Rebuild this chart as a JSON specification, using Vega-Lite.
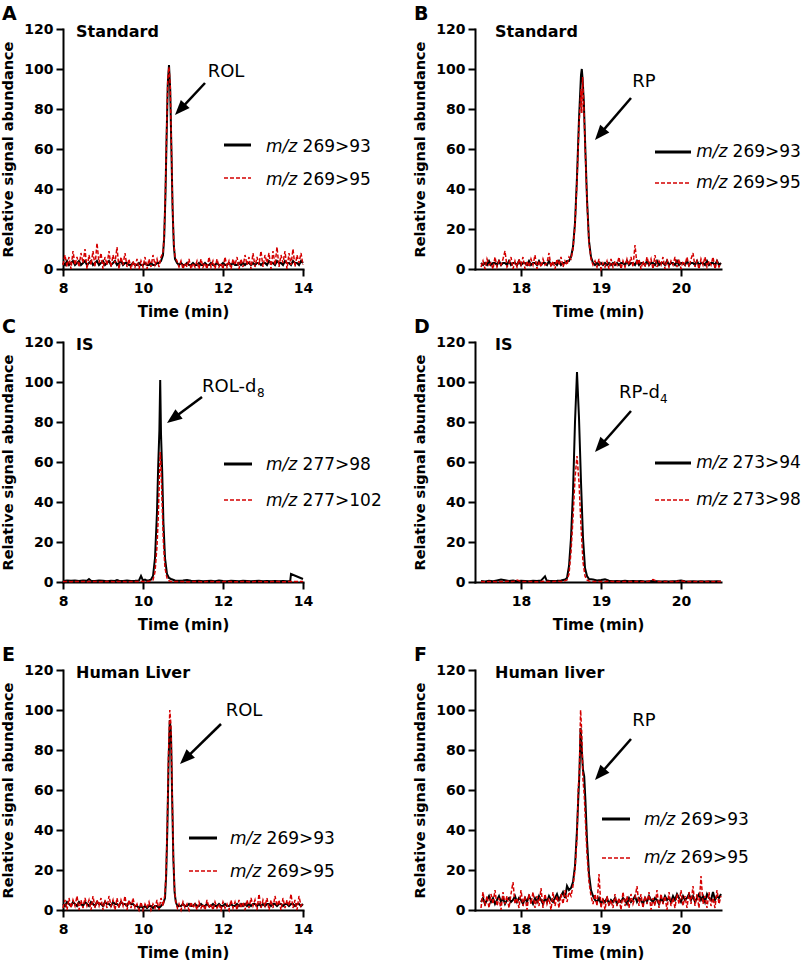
{
"$schema": "https://vega.github.io/schema/vega-lite/v6.json",
"background": "white",
"padding": {"left": 0, "top": 5, "right": 0, "bottom": 0},
"config": {
  "font": "DejaVu Sans",
  "view": {"stroke": null},
  "axis": {"domainColor": "black", "domainWidth": 2, "domainCap": "square", "tickColor": "black", "tickWidth": 2, "tickSize": 7, "labelFont": "DejaVu Sans", "labelFontSize": 14, "labelFontWeight": "bold", "labelColor": "black", "titleFont": "DejaVu Sans", "titleFontWeight": "bold", "titleColor": "black", "grid": false, "labelFlush": false, "labelOverlap": false, "format": "d"},
  "axisX": {"labelPadding": 5, "titleFontSize": 15, "titlePadding": 9},
  "axisY": {"labelPadding": 3, "titleFontSize": 14.5, "titlePadding": 8, "labelOverlap": false, "tickCount": 10},
  "title": {"fontSize": 19, "fontWeight": "bold", "anchor": "start", "frame": "group", "dx": -61, "offset": -2, "color": "black", "font": "DejaVu Sans"},
  "text": {"font": "DejaVu Sans", "color": "black"},
  "style": {
    "lab": {"fontWeight": "bold", "fontSize": 16, "baseline": "alphabetic", "align": "left"},
    "ann": {"fontSize": 18, "baseline": "alphabetic", "align": "center"},
    "annl": {"fontSize": 18, "baseline": "alphabetic", "align": "left"},
    "sub": {"fontSize": 12, "baseline": "alphabetic", "align": "left"},
    "mz": {"fontStyle": "italic", "fontSize": 17, "baseline": "middle", "align": "left"},
    "num": {"fontSize": 17, "baseline": "middle", "align": "left"},
    "arw": {"color": "black", "strokeWidth": 2.5},
    "lk": {"color": "black", "strokeWidth": 3},
    "lr": {"color": "#d40000", "strokeWidth": 1.3, "strokeDash": [4, 2]},
    "head": {"shape": "M0,0L-0.8,2L0.8,2Z", "filled": true, "color": "black", "size": 225, "opacity": 1, "strokeWidth": 0}
  }
},
"datasets": {
  "A": [
    {"t":8.00,"k":3,"r":2},{"t":8.05,"k":2,"r":7},{"t":8.10,"k":4,"r":1},{"t":8.15,"k":2,"r":6},{"t":8.20,"k":3,"r":0},{"t":8.25,"k":4,"r":9},{"t":8.30,"k":2,"r":2},{"t":8.35,"k":3,"r":6},{"t":8.40,"k":4,"r":1},{"t":8.45,"k":2,"r":8},
    {"t":8.50,"k":3,"r":3},{"t":8.55,"k":4,"r":10},{"t":8.60,"k":2,"r":0},{"t":8.65,"k":3,"r":7},{"t":8.70,"k":4,"r":2},{"t":8.75,"k":2,"r":9},{"t":8.80,"k":3,"r":1},{"t":8.85,"k":4,"r":13},{"t":8.90,"k":2,"r":3},{"t":8.95,"k":3,"r":8},
    {"t":9.00,"k":4,"r":0},{"t":9.05,"k":2,"r":6},{"t":9.10,"k":3,"r":2},{"t":9.15,"k":4,"r":9},{"t":9.20,"k":2,"r":1},{"t":9.25,"k":3,"r":7},{"t":9.30,"k":4,"r":3},{"t":9.35,"k":2,"r":11},{"t":9.40,"k":3,"r":0},{"t":9.45,"k":4,"r":6},
    {"t":9.50,"k":2,"r":2},{"t":9.55,"k":3,"r":8},{"t":9.60,"k":3,"r":1},{"t":9.65,"k":2,"r":5},{"t":9.70,"k":2,"r":0},{"t":9.75,"k":3,"r":4},{"t":9.80,"k":2,"r":1},{"t":9.85,"k":2,"r":5},{"t":9.90,"k":3,"r":0},{"t":9.95,"k":2,"r":4},
    {"t":10.00,"k":2,"r":1},{"t":10.05,"k":3,"r":6},{"t":10.10,"k":2,"r":0},{"t":10.15,"k":2,"r":5},{"t":10.20,"k":3,"r":1},{"t":10.25,"k":2,"r":7},{"t":10.30,"k":2,"r":2},{"t":10.35,"k":3,"r":5},{"t":10.40,"k":3,"r":1},{"t":10.45,"k":4,"r":6},
    {"t":10.50,"k":7,"r":8},{"t":10.53,"k":16,"r":17},{"t":10.56,"k":36,"r":38},{"t":10.59,"k":66,"r":68},{"t":10.62,"k":93,"r":95},{"t":10.65,"k":102,"r":101},{"t":10.68,"k":90,"r":92},{"t":10.71,"k":60,"r":62},{"t":10.74,"k":30,"r":31},{"t":10.77,"k":12,"r":13},
    {"t":10.80,"k":5,"r":6},{"t":10.85,"k":3,"r":4},{"t":10.90,"k":2,"r":1},{"t":10.95,"k":3,"r":4},{"t":11.00,"k":2,"r":0},{"t":11.05,"k":2,"r":3},{"t":11.10,"k":3,"r":1},{"t":11.15,"k":2,"r":5},{"t":11.20,"k":2,"r":0},{"t":11.25,"k":3,"r":3},
    {"t":11.30,"k":2,"r":1},{"t":11.35,"k":2,"r":4},{"t":11.40,"k":3,"r":0},{"t":11.45,"k":2,"r":5},{"t":11.50,"k":2,"r":1},{"t":11.55,"k":3,"r":3},{"t":11.60,"k":2,"r":0},{"t":11.65,"k":2,"r":6},{"t":11.70,"k":3,"r":1},{"t":11.75,"k":2,"r":4},
    {"t":11.80,"k":2,"r":0},{"t":11.85,"k":3,"r":5},{"t":11.90,"k":2,"r":1},{"t":11.95,"k":2,"r":3},{"t":12.00,"k":3,"r":0},{"t":12.05,"k":2,"r":6},{"t":12.10,"k":2,"r":1},{"t":12.15,"k":3,"r":4},{"t":12.20,"k":2,"r":0},{"t":12.25,"k":3,"r":5},
    {"t":12.30,"k":2,"r":2},{"t":12.35,"k":2,"r":6},{"t":12.40,"k":3,"r":0},{"t":12.45,"k":2,"r":5},{"t":12.50,"k":3,"r":1},{"t":12.55,"k":2,"r":7},{"t":12.60,"k":3,"r":2},{"t":12.65,"k":3,"r":6},{"t":12.70,"k":2,"r":0},{"t":12.75,"k":3,"r":8},
    {"t":12.80,"k":2,"r":1},{"t":12.85,"k":3,"r":6},{"t":12.90,"k":3,"r":2},{"t":12.95,"k":2,"r":9},{"t":13.00,"k":3,"r":1},{"t":13.05,"k":3,"r":7},{"t":13.10,"k":2,"r":3},{"t":13.15,"k":4,"r":8},{"t":13.20,"k":3,"r":0},{"t":13.25,"k":3,"r":9},
    {"t":13.30,"k":2,"r":2},{"t":13.35,"k":4,"r":11},{"t":13.40,"k":3,"r":1},{"t":13.45,"k":3,"r":7},{"t":13.50,"k":2,"r":3},{"t":13.55,"k":4,"r":9},{"t":13.60,"k":3,"r":0},{"t":13.65,"k":3,"r":8},{"t":13.70,"k":2,"r":2},{"t":13.75,"k":4,"r":10},
    {"t":13.80,"k":3,"r":1},{"t":13.85,"k":3,"r":7},{"t":13.90,"k":2,"r":3},{"t":13.95,"k":4,"r":8},{"t":14.00,"k":3,"r":2}
  ],
  "B": [
    {"t":17.500,"k":3,"r":1},{"t":17.525,"k":2,"r":4},{"t":17.550,"k":3,"r":0},{"t":17.575,"k":2,"r":5},{"t":17.600,"k":4,"r":2},{"t":17.625,"k":2,"r":3},{"t":17.650,"k":3,"r":0},{"t":17.675,"k":3,"r":6},{"t":17.700,"k":2,"r":1},{"t":17.725,"k":4,"r":4},
    {"t":17.750,"k":2,"r":2},{"t":17.775,"k":3,"r":5},{"t":17.800,"k":3,"r":9},{"t":17.825,"k":2,"r":1},{"t":17.850,"k":4,"r":3},{"t":17.875,"k":2,"r":6},{"t":17.900,"k":3,"r":0},{"t":17.925,"k":3,"r":4},{"t":17.950,"k":2,"r":1},{"t":17.975,"k":4,"r":5},
    {"t":18.000,"k":2,"r":2},{"t":18.025,"k":3,"r":6},{"t":18.050,"k":3,"r":0},{"t":18.075,"k":2,"r":4},{"t":18.100,"k":4,"r":1},{"t":18.125,"k":2,"r":5},{"t":18.150,"k":3,"r":2},{"t":18.175,"k":3,"r":7},{"t":18.200,"k":2,"r":0},{"t":18.225,"k":4,"r":4},
    {"t":18.250,"k":2,"r":1},{"t":18.275,"k":3,"r":5},{"t":18.300,"k":3,"r":2},{"t":18.325,"k":2,"r":3},{"t":18.350,"k":4,"r":8},{"t":18.375,"k":2,"r":1},{"t":18.400,"k":3,"r":4},{"t":18.425,"k":3,"r":0},{"t":18.450,"k":2,"r":5},{"t":18.475,"k":4,"r":2},
    {"t":18.500,"k":2,"r":6},{"t":18.525,"k":3,"r":1},{"t":18.550,"k":3,"r":4},{"t":18.575,"k":4,"r":2},{"t":18.600,"k":4,"r":6},{"t":18.625,"k":6,"r":5},{"t":18.650,"k":11,"r":10},{"t":18.675,"k":23,"r":22},{"t":18.700,"k":46,"r":44},{"t":18.725,"k":75,"r":72},
    {"t":18.750,"k":97,"r":90},{"t":18.760,"k":100,"r":78},{"t":18.770,"k":95,"r":96},{"t":18.785,"k":84,"r":82},{"t":18.800,"k":65,"r":63},{"t":18.825,"k":35,"r":34},{"t":18.850,"k":14,"r":13},{"t":18.875,"k":6,"r":5},{"t":18.900,"k":3,"r":2},{"t":18.925,"k":2,"r":4},
    {"t":18.950,"k":3,"r":1},{"t":18.975,"k":2,"r":5},{"t":19.000,"k":3,"r":0},{"t":19.025,"k":2,"r":3},{"t":19.050,"k":3,"r":1},{"t":19.075,"k":2,"r":4},{"t":19.100,"k":3,"r":0},{"t":19.125,"k":2,"r":5},{"t":19.150,"k":3,"r":1},{"t":19.175,"k":2,"r":4},
    {"t":19.200,"k":3,"r":2},{"t":19.225,"k":2,"r":6},{"t":19.250,"k":3,"r":0},{"t":19.275,"k":3,"r":4},{"t":19.300,"k":2,"r":1},{"t":19.325,"k":4,"r":5},{"t":19.350,"k":2,"r":2},{"t":19.375,"k":3,"r":6},{"t":19.400,"k":3,"r":1},{"t":19.425,"k":2,"r":12},
    {"t":19.450,"k":4,"r":2},{"t":19.475,"k":2,"r":5},{"t":19.500,"k":3,"r":0},{"t":19.525,"k":3,"r":4},{"t":19.550,"k":2,"r":1},{"t":19.575,"k":4,"r":6},{"t":19.600,"k":2,"r":2},{"t":19.625,"k":3,"r":5},{"t":19.650,"k":3,"r":0},{"t":19.675,"k":2,"r":7},
    {"t":19.700,"k":4,"r":1},{"t":19.725,"k":2,"r":4},{"t":19.750,"k":3,"r":2},{"t":19.775,"k":3,"r":6},{"t":19.800,"k":2,"r":0},{"t":19.825,"k":4,"r":5},{"t":19.850,"k":2,"r":1},{"t":19.875,"k":3,"r":4},{"t":19.900,"k":3,"r":2},{"t":19.925,"k":2,"r":6},
    {"t":19.950,"k":4,"r":1},{"t":19.975,"k":2,"r":5},{"t":20.000,"k":3,"r":0},{"t":20.025,"k":3,"r":4},{"t":20.050,"k":2,"r":2},{"t":20.075,"k":4,"r":6},{"t":20.100,"k":2,"r":1},{"t":20.125,"k":3,"r":5},{"t":20.150,"k":3,"r":8},{"t":20.175,"k":2,"r":1},
    {"t":20.200,"k":4,"r":4},{"t":20.225,"k":2,"r":0},{"t":20.250,"k":3,"r":5},{"t":20.275,"k":3,"r":2},{"t":20.300,"k":2,"r":6},{"t":20.325,"k":4,"r":1},{"t":20.350,"k":2,"r":4},{"t":20.375,"k":3,"r":2},{"t":20.400,"k":3,"r":6},{"t":20.425,"k":2,"r":0},
    {"t":20.450,"k":4,"r":4},{"t":20.475,"k":2,"r":1},{"t":20.500,"k":3,"r":3}
  ],
  "C": [
    {"t":8.0,"k":0.5,"r":0.2},{"t":8.1,"k":0.8,"r":0.3},{"t":8.2,"k":0.6,"r":0.1},{"t":8.3,"k":0.7,"r":0.3},{"t":8.4,"k":0.5,"r":0.2},{"t":8.5,"k":0.8,"r":0.3},{"t":8.6,"k":0.6,"r":0.1},{"t":8.65,"k":1.5,"r":0.3},{"t":8.7,"k":0.6,"r":0.2},{"t":8.8,"k":0.5,"r":0.3},
    {"t":8.9,"k":0.7,"r":0.1},{"t":9.0,"k":0.6,"r":0.2},{"t":9.1,"k":0.4,"r":0.3},{"t":9.2,"k":0.6,"r":0.2},{"t":9.3,"k":0.5,"r":0.1},{"t":9.35,"k":1.0,"r":0.3},{"t":9.4,"k":0.6,"r":0.2},{"t":9.5,"k":0.5,"r":0.3},{"t":9.6,"k":0.7,"r":0.1},{"t":9.7,"k":0.5,"r":0.2},
    {"t":9.8,"k":0.6,"r":0.3},{"t":9.9,"k":0.8,"r":0.2},{"t":9.95,"k":3.0,"r":0.4},{"t":10.0,"k":0.8,"r":0.3},{"t":10.05,"k":1.2,"r":0.2},{"t":10.1,"k":0.7,"r":0.3},{"t":10.15,"k":0.9,"r":0.4},{"t":10.2,"k":1.2,"r":0.5},{"t":10.25,"k":3,"r":1},{"t":10.3,"k":12,"r":5},
    {"t":10.35,"k":35,"r":18},{"t":10.38,"k":58,"r":32},{"t":10.41,"k":76,"r":52},{"t":10.43,"k":101,"r":65},{"t":10.45,"k":74,"r":58},{"t":10.48,"k":55,"r":38},{"t":10.51,"k":30,"r":20},{"t":10.55,"k":12,"r":7},{"t":10.6,"k":4,"r":2},{"t":10.65,"k":2,"r":0.6},
    {"t":10.7,"k":1.5,"r":0.3},{"t":10.8,"k":0.8,"r":0.2},{"t":10.9,"k":0.6,"r":0.3},{"t":11.0,"k":0.7,"r":0.2},{"t":11.1,"k":1.0,"r":0.1},{"t":11.2,"k":0.6,"r":0.2},{"t":11.3,"k":0.5,"r":0.3},{"t":11.4,"k":0.6,"r":0.2},{"t":11.5,"k":0.4,"r":0.1},{"t":11.6,"k":0.5,"r":0.2},
    {"t":11.7,"k":0.6,"r":0.3},{"t":11.8,"k":0.4,"r":0.2},{"t":11.9,"k":0.8,"r":0.1},{"t":12.0,"k":0.5,"r":0.2},{"t":12.1,"k":0.4,"r":0.3},{"t":12.2,"k":0.6,"r":0.2},{"t":12.3,"k":0.5,"r":0.1},{"t":12.4,"k":0.4,"r":0.2},{"t":12.5,"k":0.6,"r":0.3},{"t":12.6,"k":0.5,"r":0.2},
    {"t":12.7,"k":0.4,"r":0.1},{"t":12.8,"k":0.5,"r":0.2},{"t":12.9,"k":0.6,"r":0.3},{"t":13.0,"k":0.4,"r":0.2},{"t":13.1,"k":0.5,"r":0.1},{"t":13.2,"k":0.4,"r":0.2},{"t":13.3,"k":0.5,"r":0.3},{"t":13.4,"k":0.4,"r":0.2},{"t":13.5,"k":0.5,"r":0.1},{"t":13.6,"k":0.4,"r":0.2},
    {"t":13.68,"k":0.5,"r":0.3},{"t":13.7,"k":4,"r":0.2},{"t":14.0,"k":1.5,"r":0.2}
  ],
  "D": [
    {"t":17.50,"k":0.5,"r":0.2},{"t":17.55,"k":0.3,"r":0.1},{"t":17.60,"k":0.6,"r":0.3},{"t":17.65,"k":0.4,"r":0.2},{"t":17.70,"k":0.8,"r":0.1},{"t":17.75,"k":1.2,"r":0.3},{"t":17.80,"k":0.9,"r":0.2},{"t":17.85,"k":0.5,"r":0.4},{"t":17.90,"k":0.7,"r":0.2},{"t":17.95,"k":0.4,"r":1.0},
    {"t":18.00,"k":0.6,"r":0.3},{"t":18.05,"k":0.5,"r":0.2},{"t":18.10,"k":0.4,"r":0.3},{"t":18.15,"k":0.6,"r":0.2},{"t":18.20,"k":0.5,"r":0.1},{"t":18.25,"k":0.7,"r":0.3},{"t":18.30,"k":2.8,"r":0.4},{"t":18.32,"k":0.8,"r":0.2},{"t":18.35,"k":0.6,"r":0.3},{"t":18.40,"k":0.5,"r":0.2},
    {"t":18.45,"k":0.6,"r":0.4},{"t":18.50,"k":0.8,"r":0.3},{"t":18.55,"k":1.2,"r":0.6},{"t":18.575,"k":2,"r":1},{"t":18.600,"k":8,"r":4},{"t":18.625,"k":22,"r":15},{"t":18.650,"k":45,"r":32},{"t":18.675,"k":80,"r":52},{"t":18.700,"k":105,"r":63},{"t":18.725,"k":82,"r":50},
    {"t":18.750,"k":50,"r":28},{"t":18.775,"k":22,"r":10},{"t":18.800,"k":7,"r":3},{"t":18.825,"k":3,"r":1},{"t":18.85,"k":1.5,"r":0.5},{"t":18.90,"k":1.2,"r":0.3},{"t":18.95,"k":0.8,"r":0.2},{"t":19.00,"k":1.0,"r":0.3},{"t":19.05,"k":1.3,"r":0.2},{"t":19.10,"k":0.6,"r":0.4},
    {"t":19.15,"k":0.4,"r":0.2},{"t":19.20,"k":0.5,"r":0.3},{"t":19.25,"k":0.4,"r":0.2},{"t":19.30,"k":0.6,"r":0.3},{"t":19.35,"k":0.4,"r":0.2},{"t":19.40,"k":0.5,"r":0.3},{"t":19.45,"k":0.4,"r":0.2},{"t":19.50,"k":0.5,"r":0.3},{"t":19.55,"k":0.3,"r":0.2},{"t":19.60,"k":0.4,"r":0.4},
    {"t":19.65,"k":0.5,"r":1.2},{"t":19.70,"k":0.4,"r":0.3},{"t":19.75,"k":0.3,"r":0.2},{"t":19.80,"k":0.4,"r":0.3},{"t":19.85,"k":0.3,"r":0.2},{"t":19.90,"k":0.4,"r":0.3},{"t":19.95,"k":0.5,"r":0.2},{"t":20.00,"k":0.8,"r":0.7},{"t":20.05,"k":0.4,"r":0.3},{"t":20.10,"k":0.3,"r":0.2},
    {"t":20.15,"k":0.4,"r":0.3},{"t":20.20,"k":0.3,"r":0.2},{"t":20.25,"k":0.4,"r":0.3},{"t":20.30,"k":0.3,"r":0.2},{"t":20.35,"k":0.4,"r":0.3},{"t":20.40,"k":0.3,"r":0.2},{"t":20.45,"k":0.4,"r":0.3},{"t":20.50,"k":0.3,"r":0.2}
  ],
  "E": [
    {"t":8.00,"k":3,"r":1},{"t":8.05,"k":2,"r":5},{"t":8.10,"k":4,"r":0},{"t":8.15,"k":3,"r":6},{"t":8.20,"k":2,"r":1},{"t":8.25,"k":4,"r":5},{"t":8.30,"k":3,"r":2},{"t":8.35,"k":2,"r":7},{"t":8.40,"k":4,"r":0},{"t":8.45,"k":3,"r":5},
    {"t":8.50,"k":2,"r":1},{"t":8.55,"k":4,"r":6},{"t":8.60,"k":3,"r":2},{"t":8.65,"k":2,"r":5},{"t":8.70,"k":4,"r":0},{"t":8.75,"k":3,"r":7},{"t":8.80,"k":2,"r":1},{"t":8.85,"k":4,"r":5},{"t":8.90,"k":3,"r":2},{"t":8.95,"k":3,"r":6},
    {"t":9.00,"k":2,"r":0},{"t":9.05,"k":4,"r":5},{"t":9.10,"k":3,"r":1},{"t":9.15,"k":3,"r":7},{"t":9.20,"k":2,"r":2},{"t":9.25,"k":4,"r":5},{"t":9.30,"k":3,"r":0},{"t":9.35,"k":3,"r":6},{"t":9.40,"k":2,"r":1},{"t":9.45,"k":4,"r":5},
    {"t":9.50,"k":3,"r":2},{"t":9.55,"k":3,"r":7},{"t":9.60,"k":2,"r":0},{"t":9.65,"k":4,"r":5},{"t":9.70,"k":3,"r":1},{"t":9.75,"k":3,"r":6},{"t":9.80,"k":2,"r":1},{"t":9.85,"k":2,"r":3},{"t":9.90,"k":1,"r":0},{"t":9.95,"k":2,"r":4},
    {"t":10.00,"k":1,"r":0},{"t":10.05,"k":2,"r":3},{"t":10.10,"k":1,"r":1},{"t":10.15,"k":2,"r":4},{"t":10.20,"k":2,"r":0},{"t":10.25,"k":1,"r":3},{"t":10.30,"k":2,"r":1},{"t":10.35,"k":2,"r":5},{"t":10.40,"k":1,"r":0},{"t":10.45,"k":2,"r":6},
    {"t":10.50,"k":3,"r":2},{"t":10.55,"k":6,"r":8},{"t":10.58,"k":18,"r":20},{"t":10.61,"k":42,"r":45},{"t":10.64,"k":75,"r":80},{"t":10.67,"k":95,"r":100},{"t":10.70,"k":88,"r":92},{"t":10.73,"k":55,"r":58},{"t":10.76,"k":25,"r":26},{"t":10.79,"k":9,"r":10},
    {"t":10.82,"k":4,"r":4},{"t":10.86,"k":2,"r":1},{"t":10.90,"k":2,"r":3},{"t":10.95,"k":2,"r":0},{"t":11.00,"k":3,"r":4},{"t":11.05,"k":2,"r":1},{"t":11.10,"k":2,"r":3},{"t":11.15,"k":3,"r":0},{"t":11.20,"k":2,"r":4},{"t":11.25,"k":2,"r":1},
    {"t":11.30,"k":3,"r":3},{"t":11.35,"k":2,"r":0},{"t":11.40,"k":2,"r":4},{"t":11.45,"k":3,"r":1},{"t":11.50,"k":2,"r":3},{"t":11.55,"k":2,"r":0},{"t":11.60,"k":3,"r":5},{"t":11.65,"k":2,"r":1},{"t":11.70,"k":2,"r":3},{"t":11.75,"k":3,"r":0},
    {"t":11.80,"k":2,"r":4},{"t":11.85,"k":2,"r":1},{"t":11.90,"k":3,"r":3},{"t":11.95,"k":2,"r":0},{"t":12.00,"k":2,"r":4},{"t":12.05,"k":3,"r":1},{"t":12.10,"k":2,"r":3},{"t":12.15,"k":2,"r":0},{"t":12.20,"k":3,"r":5},{"t":12.25,"k":2,"r":1},
    {"t":12.30,"k":2,"r":4},{"t":12.35,"k":3,"r":0},{"t":12.40,"k":2,"r":5},{"t":12.45,"k":3,"r":1},{"t":12.50,"k":2,"r":4},{"t":12.55,"k":3,"r":0},{"t":12.60,"k":2,"r":5},{"t":12.65,"k":3,"r":1},{"t":12.70,"k":2,"r":6},{"t":12.75,"k":3,"r":2},
    {"t":12.80,"k":3,"r":5},{"t":12.85,"k":2,"r":0},{"t":12.90,"k":3,"r":8},{"t":12.95,"k":2,"r":1},{"t":13.00,"k":3,"r":5},{"t":13.05,"k":2,"r":2},{"t":13.10,"k":3,"r":6},{"t":13.15,"k":3,"r":0},{"t":13.20,"k":2,"r":5},{"t":13.25,"k":3,"r":1},
    {"t":13.30,"k":3,"r":7},{"t":13.35,"k":2,"r":2},{"t":13.40,"k":3,"r":5},{"t":13.45,"k":3,"r":0},{"t":13.50,"k":2,"r":6},{"t":13.55,"k":3,"r":1},{"t":13.60,"k":3,"r":5},{"t":13.65,"k":2,"r":2},{"t":13.70,"k":3,"r":8},{"t":13.75,"k":3,"r":1},
    {"t":13.80,"k":2,"r":5},{"t":13.85,"k":3,"r":0},{"t":13.90,"k":3,"r":7},{"t":13.95,"k":2,"r":2},{"t":14.00,"k":3,"r":4}
  ],
  "F": [
    {"t":17.500,"k":4,"r":1},{"t":17.525,"k":6,"r":9},{"t":17.550,"k":3,"r":2},{"t":17.575,"k":5,"r":7},{"t":17.600,"k":7,"r":1},{"t":17.625,"k":4,"r":8},{"t":17.650,"k":6,"r":3},{"t":17.675,"k":3,"r":10},{"t":17.700,"k":5,"r":2},{"t":17.725,"k":7,"r":6},
    {"t":17.750,"k":4,"r":0},{"t":17.775,"k":6,"r":9},{"t":17.800,"k":3,"r":3},{"t":17.825,"k":5,"r":7},{"t":17.850,"k":6,"r":1},{"t":17.875,"k":4,"r":8},{"t":17.900,"k":5,"r":14},{"t":17.925,"k":7,"r":3},{"t":17.950,"k":4,"r":6},{"t":17.975,"k":6,"r":1},
    {"t":18.000,"k":5,"r":10},{"t":18.025,"k":3,"r":2},{"t":18.050,"k":6,"r":7},{"t":18.075,"k":4,"r":0},{"t":18.100,"k":7,"r":8},{"t":18.125,"k":5,"r":3},{"t":18.150,"k":3,"r":9},{"t":18.175,"k":6,"r":1},{"t":18.200,"k":4,"r":7},{"t":18.225,"k":7,"r":2},
    {"t":18.250,"k":5,"r":11},{"t":18.275,"k":3,"r":1},{"t":18.300,"k":6,"r":8},{"t":18.325,"k":4,"r":3},{"t":18.350,"k":7,"r":6},{"t":18.375,"k":5,"r":0},{"t":18.400,"k":4,"r":9},{"t":18.425,"k":6,"r":2},{"t":18.450,"k":8,"r":7},{"t":18.475,"k":5,"r":1},
    {"t":18.500,"k":7,"r":8},{"t":18.525,"k":9,"r":3},{"t":18.550,"k":6,"r":10},{"t":18.575,"k":12,"r":4},{"t":18.600,"k":10,"r":9},{"t":18.625,"k":11,"r":7},{"t":18.650,"k":14,"r":12},{"t":18.675,"k":22,"r":20},{"t":18.700,"k":40,"r":36},{"t":18.715,"k":55,"r":60},
    {"t":18.730,"k":68,"r":70},{"t":18.745,"k":91,"r":100},{"t":18.760,"k":80,"r":88},{"t":18.775,"k":70,"r":65},{"t":18.790,"k":67,"r":58},{"t":18.805,"k":55,"r":45},{"t":18.825,"k":35,"r":28},{"t":18.850,"k":18,"r":14},{"t":18.875,"k":10,"r":7},{"t":18.900,"k":7,"r":3},
    {"t":18.925,"k":5,"r":8},{"t":18.950,"k":4,"r":2},{"t":18.975,"k":6,"r":18},{"t":19.000,"k":3,"r":1},{"t":19.025,"k":5,"r":6},{"t":19.050,"k":4,"r":0},{"t":19.075,"k":6,"r":7},{"t":19.100,"k":3,"r":2},{"t":19.125,"k":5,"r":5},{"t":19.150,"k":4,"r":1},
    {"t":19.175,"k":6,"r":8},{"t":19.200,"k":3,"r":2},{"t":19.225,"k":5,"r":6},{"t":19.250,"k":4,"r":0},{"t":19.275,"k":6,"r":9},{"t":19.300,"k":5,"r":2},{"t":19.325,"k":3,"r":7},{"t":19.350,"k":6,"r":1},{"t":19.375,"k":4,"r":8},{"t":19.400,"k":5,"r":3},
    {"t":19.425,"k":7,"r":6},{"t":19.450,"k":4,"r":12},{"t":19.475,"k":6,"r":2},{"t":19.500,"k":5,"r":8},{"t":19.525,"k":3,"r":1},{"t":19.550,"k":6,"r":7},{"t":19.575,"k":4,"r":3},{"t":19.600,"k":7,"r":9},{"t":19.625,"k":5,"r":0},{"t":19.650,"k":4,"r":6},
    {"t":19.675,"k":6,"r":2},{"t":19.700,"k":5,"r":10},{"t":19.725,"k":3,"r":1},{"t":19.750,"k":6,"r":8},{"t":19.775,"k":4,"r":3},{"t":19.800,"k":7,"r":7},{"t":19.825,"k":5,"r":0},{"t":19.850,"k":6,"r":9},{"t":19.875,"k":4,"r":2},{"t":19.900,"k":7,"r":6},
    {"t":19.925,"k":5,"r":1},{"t":19.950,"k":8,"r":8},{"t":19.975,"k":6,"r":3},{"t":20.000,"k":4,"r":10},{"t":20.025,"k":7,"r":2},{"t":20.050,"k":5,"r":7},{"t":20.075,"k":6,"r":1},{"t":20.100,"k":8,"r":9},{"t":20.125,"k":5,"r":3},{"t":20.150,"k":7,"r":12},
    {"t":20.175,"k":4,"r":2},{"t":20.200,"k":6,"r":8},{"t":20.225,"k":8,"r":1},{"t":20.250,"k":5,"r":17},{"t":20.275,"k":7,"r":3},{"t":20.300,"k":4,"r":7},{"t":20.325,"k":8,"r":1},{"t":20.350,"k":6,"r":9},{"t":20.375,"k":5,"r":2},{"t":20.400,"k":9,"r":6},
    {"t":20.425,"k":5,"r":1},{"t":20.450,"k":7,"r":10},{"t":20.475,"k":6,"r":3},{"t":20.500,"k":8,"r":7}
  ]
},
"spacing": 30,
"hconcat": [
 {"spacing": 14, "vconcat": [
  {"bounds": "flush", "spacing": 73, "vconcat": [
   {"width": 240, "height": 240, "title": {"text": "A"}, "data": {"name": "A"}, "layer": [
     {"mark": {"type": "line", "color": "black", "strokeWidth": 2}, "encoding": {"x": {"field": "t", "type": "quantitative", "title": "Time (min)", "scale": {"domain": [8, 14], "nice": false, "zero": false}, "axis": {"values": [8, 10, 12, 14]}}, "y": {"field": "k", "type": "quantitative", "title": "Relative signal abundance", "scale": {"domain": [0, 120], "nice": false}, "axis": {"values": [0, 20, 40, 60, 80, 100, 120], "labelOverlap": false, "tickCount": 10}}}},
     {"mark": {"type": "line", "color": "#d40000", "strokeWidth": 1.5, "strokeDash": [4, 2]}, "encoding": {"x": {"field": "t", "type": "quantitative", "title": "Time (min)"}, "y": {"field": "r", "type": "quantitative", "title": "Relative signal abundance"}}},
     {"data": {"values": [{}]}, "mark": {"type": "text", "style": "lab", "text": "Standard"}, "encoding": {"x": {"datum": 8.325}, "y": {"datum": 116}}},
     {"data": {"values": [{}]}, "mark": {"type": "text", "style": "ann", "text": "ROL"}, "encoding": {"x": {"datum": 12.075}, "y": {"datum": 96}}},
     {"data": {"values": [{}]}, "mark": {"type": "rule", "style": "arw"}, "encoding": {"x": {"datum": 11.55}, "y": {"datum": 93}, "x2": {"datum": 10.94}, "y2": {"datum": 79.9}}},
     {"data": {"values": [{}]}, "mark": {"type": "point", "style": "head", "angle": 223}, "encoding": {"x": {"datum": 10.8}, "y": {"datum": 77}}},
     {"data": {"values": [{}]}, "mark": {"type": "rule", "style": "lk"}, "encoding": {"x": {"datum": 12.025}, "x2": {"datum": 12.7}, "y": {"datum": 62}}},
     {"data": {"values": [{}]}, "mark": {"type": "rule", "style": "lr"}, "encoding": {"x": {"datum": 12.025}, "x2": {"datum": 12.7}, "y": {"datum": 45.5}}},
     {"data": {"values": [{}]}, "mark": {"type": "text", "style": "mz", "text": "m/z"}, "encoding": {"x": {"datum": 13.075}, "y": {"datum": 61}}},
     {"data": {"values": [{}]}, "mark": {"type": "text", "style": "num", "text": "269>93"}, "encoding": {"x": {"datum": 13.99}, "y": {"datum": 61}}},
     {"data": {"values": [{}]}, "mark": {"type": "text", "style": "mz", "text": "m/z"}, "encoding": {"x": {"datum": 13.075}, "y": {"datum": 44.5}}},
     {"data": {"values": [{}]}, "mark": {"type": "text", "style": "num", "text": "269>95"}, "encoding": {"x": {"datum": 13.99}, "y": {"datum": 44.5}}}
   ]},
   {"width": 240, "height": 240, "title": {"text": "C"}, "data": {"name": "C"}, "layer": [
     {"mark": {"type": "line", "color": "black", "strokeWidth": 2}, "encoding": {"x": {"field": "t", "type": "quantitative", "title": "Time (min)", "scale": {"domain": [8, 14], "nice": false, "zero": false}, "axis": {"values": [8, 10, 12, 14]}}, "y": {"field": "k", "type": "quantitative", "title": "Relative signal abundance", "scale": {"domain": [0, 120], "nice": false}, "axis": {"values": [0, 20, 40, 60, 80, 100, 120], "labelOverlap": false, "tickCount": 10}}}},
     {"mark": {"type": "line", "color": "#d40000", "strokeWidth": 1.5, "strokeDash": [4, 2]}, "encoding": {"x": {"field": "t", "type": "quantitative", "title": "Time (min)"}, "y": {"field": "r", "type": "quantitative", "title": "Relative signal abundance"}}},
     {"data": {"values": [{}]}, "mark": {"type": "text", "style": "lab", "text": "IS"}, "encoding": {"x": {"datum": 8.325}, "y": {"datum": 116}}},
     {"data": {"values": [{}]}, "mark": {"type": "text", "style": "annl", "text": "ROL-d"}, "encoding": {"x": {"datum": 11.475}, "y": {"datum": 95}}},
     {"data": {"values": [{}]}, "mark": {"type": "text", "style": "sub", "text": "8"}, "encoding": {"x": {"datum": 12.85}, "y": {"datum": 92.5}}},
     {"data": {"values": [{}]}, "mark": {"type": "rule", "style": "arw"}, "encoding": {"x": {"datum": 11.475}, "y": {"datum": 92.5}, "x2": {"datum": 10.76}, "y2": {"datum": 81.9}}},
     {"data": {"values": [{}]}, "mark": {"type": "point", "style": "head", "angle": 233.4}, "encoding": {"x": {"datum": 10.6}, "y": {"datum": 79.5}}},
     {"data": {"values": [{}]}, "mark": {"type": "rule", "style": "lk"}, "encoding": {"x": {"datum": 12.025}, "x2": {"datum": 12.725}, "y": {"datum": 59}}},
     {"data": {"values": [{}]}, "mark": {"type": "rule", "style": "lr"}, "encoding": {"x": {"datum": 12.025}, "x2": {"datum": 12.725}, "y": {"datum": 41}}},
     {"data": {"values": [{}]}, "mark": {"type": "text", "style": "mz", "text": "m/z"}, "encoding": {"x": {"datum": 13.075}, "y": {"datum": 58.5}}},
     {"data": {"values": [{}]}, "mark": {"type": "text", "style": "num", "text": "277>98"}, "encoding": {"x": {"datum": 13.99}, "y": {"datum": 58.5}}},
     {"data": {"values": [{}]}, "mark": {"type": "text", "style": "mz", "text": "m/z"}, "encoding": {"x": {"datum": 13.075}, "y": {"datum": 40.5}}},
     {"data": {"values": [{}]}, "mark": {"type": "text", "style": "num", "text": "277>102"}, "encoding": {"x": {"datum": 13.99}, "y": {"datum": 40.5}}}
   ]}
  ]},
  {"width": 240, "height": 240, "title": {"text": "E"}, "data": {"name": "E"}, "layer": [
     {"mark": {"type": "line", "color": "black", "strokeWidth": 2}, "encoding": {"x": {"field": "t", "type": "quantitative", "title": "Time (min)", "scale": {"domain": [8, 14], "nice": false, "zero": false}, "axis": {"values": [8, 10, 12, 14]}}, "y": {"field": "k", "type": "quantitative", "title": "Relative signal abundance", "scale": {"domain": [0, 120], "nice": false}, "axis": {"values": [0, 20, 40, 60, 80, 100, 120], "labelOverlap": false, "tickCount": 10}}}},
     {"mark": {"type": "line", "color": "#d40000", "strokeWidth": 1.5, "strokeDash": [4, 2]}, "encoding": {"x": {"field": "t", "type": "quantitative", "title": "Time (min)"}, "y": {"field": "r", "type": "quantitative", "title": "Relative signal abundance"}}},
     {"data": {"values": [{}]}, "mark": {"type": "text", "style": "lab", "text": "Human Liver"}, "encoding": {"x": {"datum": 8.325}, "y": {"datum": 116}}},
     {"data": {"values": [{}]}, "mark": {"type": "text", "style": "ann", "text": "ROL"}, "encoding": {"x": {"datum": 12.525}, "y": {"datum": 97}}},
     {"data": {"values": [{}]}, "mark": {"type": "rule", "style": "arw"}, "encoding": {"x": {"datum": 11.95}, "y": {"datum": 93}, "x2": {"datum": 11.07}, "y2": {"datum": 75.8}}},
     {"data": {"values": [{}]}, "mark": {"type": "point", "style": "head", "angle": 225.7}, "encoding": {"x": {"datum": 10.925}, "y": {"datum": 73}}},
     {"data": {"values": [{}]}, "mark": {"type": "rule", "style": "lk"}, "encoding": {"x": {"datum": 11.15}, "x2": {"datum": 11.85}, "y": {"datum": 36}}},
     {"data": {"values": [{}]}, "mark": {"type": "rule", "style": "lr"}, "encoding": {"x": {"datum": 11.15}, "x2": {"datum": 11.85}, "y": {"datum": 19.5}}},
     {"data": {"values": [{}]}, "mark": {"type": "text", "style": "mz", "text": "m/z"}, "encoding": {"x": {"datum": 12.175}, "y": {"datum": 35.5}}},
     {"data": {"values": [{}]}, "mark": {"type": "text", "style": "num", "text": "269>93"}, "encoding": {"x": {"datum": 13.09}, "y": {"datum": 35.5}}},
     {"data": {"values": [{}]}, "mark": {"type": "text", "style": "mz", "text": "m/z"}, "encoding": {"x": {"datum": 12.175}, "y": {"datum": 19}}},
     {"data": {"values": [{}]}, "mark": {"type": "text", "style": "num", "text": "269>95"}, "encoding": {"x": {"datum": 13.09}, "y": {"datum": 19}}}
  ]}
 ]},
 {"spacing": 14, "vconcat": [
  {"bounds": "flush", "spacing": 73, "vconcat": [
   {"width": 246, "height": 240, "title": {"text": "B"}, "data": {"name": "B"}, "layer": [
     {"mark": {"type": "line", "color": "black", "strokeWidth": 2}, "encoding": {"x": {"field": "t", "type": "quantitative", "title": "Time (min)", "scale": {"domain": [17.425, 20.5], "nice": false, "zero": false}, "axis": {"values": [18, 19, 20]}}, "y": {"field": "k", "type": "quantitative", "title": "Relative signal abundance", "scale": {"domain": [0, 120], "nice": false}, "axis": {"values": [0, 20, 40, 60, 80, 100, 120], "labelOverlap": false, "tickCount": 10}}}},
     {"mark": {"type": "line", "color": "#d40000", "strokeWidth": 1.5, "strokeDash": [4, 2]}, "encoding": {"x": {"field": "t", "type": "quantitative", "title": "Time (min)"}, "y": {"field": "r", "type": "quantitative", "title": "Relative signal abundance"}}},
     {"data": {"values": [{}]}, "mark": {"type": "text", "style": "lab", "text": "Standard"}, "encoding": {"x": {"datum": 17.675}, "y": {"datum": 116}}},
     {"data": {"values": [{}]}, "mark": {"type": "text", "style": "ann", "text": "RP"}, "encoding": {"x": {"datum": 19.5375}, "y": {"datum": 91}}},
     {"data": {"values": [{}]}, "mark": {"type": "rule", "style": "arw"}, "encoding": {"x": {"datum": 19.375}, "y": {"datum": 85.5}, "x2": {"datum": 18.99}, "y2": {"datum": 67.55}}},
     {"data": {"values": [{}]}, "mark": {"type": "point", "style": "head", "angle": 220.6}, "encoding": {"x": {"datum": 18.925}, "y": {"datum": 64.5}}},
     {"data": {"values": [{}]}, "mark": {"type": "rule", "style": "lk"}, "encoding": {"x": {"datum": 19.675}, "x2": {"datum": 20.125}, "y": {"datum": 58.5}}},
     {"data": {"values": [{}]}, "mark": {"type": "rule", "style": "lr"}, "encoding": {"x": {"datum": 19.675}, "x2": {"datum": 20.125}, "y": {"datum": 43}}},
     {"data": {"values": [{}]}, "mark": {"type": "text", "style": "mz", "text": "m/z"}, "encoding": {"x": {"datum": 20.19}, "y": {"datum": 58.5}}},
     {"data": {"values": [{}]}, "mark": {"type": "text", "style": "num", "text": "269>93"}, "encoding": {"x": {"datum": 20.645}, "y": {"datum": 58.5}}},
     {"data": {"values": [{}]}, "mark": {"type": "text", "style": "mz", "text": "m/z"}, "encoding": {"x": {"datum": 20.19}, "y": {"datum": 43}}},
     {"data": {"values": [{}]}, "mark": {"type": "text", "style": "num", "text": "269>95"}, "encoding": {"x": {"datum": 20.645}, "y": {"datum": 43}}}
   ]},
   {"width": 246, "height": 240, "title": {"text": "D"}, "data": {"name": "D"}, "layer": [
     {"mark": {"type": "line", "color": "black", "strokeWidth": 2}, "encoding": {"x": {"field": "t", "type": "quantitative", "title": "Time (min)", "scale": {"domain": [17.425, 20.5], "nice": false, "zero": false}, "axis": {"values": [18, 19, 20]}}, "y": {"field": "k", "type": "quantitative", "title": "Relative signal abundance", "scale": {"domain": [0, 120], "nice": false}, "axis": {"values": [0, 20, 40, 60, 80, 100, 120], "labelOverlap": false, "tickCount": 10}}}},
     {"mark": {"type": "line", "color": "#d40000", "strokeWidth": 1.5, "strokeDash": [4, 2]}, "encoding": {"x": {"field": "t", "type": "quantitative", "title": "Time (min)"}, "y": {"field": "r", "type": "quantitative", "title": "Relative signal abundance"}}},
     {"data": {"values": [{}]}, "mark": {"type": "text", "style": "lab", "text": "IS"}, "encoding": {"x": {"datum": 17.675}, "y": {"datum": 116}}},
     {"data": {"values": [{}]}, "mark": {"type": "text", "style": "annl", "text": "RP-d"}, "encoding": {"x": {"datum": 19.225}, "y": {"datum": 92}}},
     {"data": {"values": [{}]}, "mark": {"type": "text", "style": "sub", "text": "4"}, "encoding": {"x": {"datum": 19.7375}, "y": {"datum": 89.5}}},
     {"data": {"values": [{}]}, "mark": {"type": "rule", "style": "arw"}, "encoding": {"x": {"datum": 19.375}, "y": {"datum": 85.5}, "x2": {"datum": 18.991}, "y2": {"datum": 68}}},
     {"data": {"values": [{}]}, "mark": {"type": "point", "style": "head", "angle": 221.3}, "encoding": {"x": {"datum": 18.925}, "y": {"datum": 65}}},
     {"data": {"values": [{}]}, "mark": {"type": "rule", "style": "lk"}, "encoding": {"x": {"datum": 19.675}, "x2": {"datum": 20.125}, "y": {"datum": 59.5}}},
     {"data": {"values": [{}]}, "mark": {"type": "rule", "style": "lr"}, "encoding": {"x": {"datum": 19.675}, "x2": {"datum": 20.125}, "y": {"datum": 41}}},
     {"data": {"values": [{}]}, "mark": {"type": "text", "style": "mz", "text": "m/z"}, "encoding": {"x": {"datum": 20.19}, "y": {"datum": 59.5}}},
     {"data": {"values": [{}]}, "mark": {"type": "text", "style": "num", "text": "273>94"}, "encoding": {"x": {"datum": 20.645}, "y": {"datum": 59.5}}},
     {"data": {"values": [{}]}, "mark": {"type": "text", "style": "mz", "text": "m/z"}, "encoding": {"x": {"datum": 20.19}, "y": {"datum": 41}}},
     {"data": {"values": [{}]}, "mark": {"type": "text", "style": "num", "text": "273>98"}, "encoding": {"x": {"datum": 20.645}, "y": {"datum": 41}}}
   ]}
  ]},
  {"width": 246, "height": 240, "title": {"text": "F"}, "data": {"name": "F"}, "layer": [
     {"mark": {"type": "line", "color": "black", "strokeWidth": 2}, "encoding": {"x": {"field": "t", "type": "quantitative", "title": "Time (min)", "scale": {"domain": [17.425, 20.5], "nice": false, "zero": false}, "axis": {"values": [18, 19, 20]}}, "y": {"field": "k", "type": "quantitative", "title": "Relative signal abundance", "scale": {"domain": [0, 120], "nice": false}, "axis": {"values": [0, 20, 40, 60, 80, 100, 120], "labelOverlap": false, "tickCount": 10}}}},
     {"mark": {"type": "line", "color": "#d40000", "strokeWidth": 1.5, "strokeDash": [4, 2]}, "encoding": {"x": {"field": "t", "type": "quantitative", "title": "Time (min)"}, "y": {"field": "r", "type": "quantitative", "title": "Relative signal abundance"}}},
     {"data": {"values": [{}]}, "mark": {"type": "text", "style": "lab", "text": "Human liver"}, "encoding": {"x": {"datum": 17.675}, "y": {"datum": 116}}},
     {"data": {"values": [{}]}, "mark": {"type": "text", "style": "ann", "text": "RP"}, "encoding": {"x": {"datum": 19.5375}, "y": {"datum": 92}}},
     {"data": {"values": [{}]}, "mark": {"type": "rule", "style": "arw"}, "encoding": {"x": {"datum": 19.375}, "y": {"datum": 85.5}, "x2": {"datum": 18.991}, "y2": {"datum": 68}}},
     {"data": {"values": [{}]}, "mark": {"type": "point", "style": "head", "angle": 221.3}, "encoding": {"x": {"datum": 18.925}, "y": {"datum": 65}}},
     {"data": {"values": [{}]}, "mark": {"type": "rule", "style": "lk"}, "encoding": {"x": {"datum": 19.0125}, "x2": {"datum": 19.3625}, "y": {"datum": 45.5}}},
     {"data": {"values": [{}]}, "mark": {"type": "rule", "style": "lr"}, "encoding": {"x": {"datum": 19.0125}, "x2": {"datum": 19.3625}, "y": {"datum": 26}}},
     {"data": {"values": [{}]}, "mark": {"type": "text", "style": "mz", "text": "m/z"}, "encoding": {"x": {"datum": 19.5375}, "y": {"datum": 45}}},
     {"data": {"values": [{}]}, "mark": {"type": "text", "style": "num", "text": "269>93"}, "encoding": {"x": {"datum": 19.995}, "y": {"datum": 45}}},
     {"data": {"values": [{}]}, "mark": {"type": "text", "style": "mz", "text": "m/z"}, "encoding": {"x": {"datum": 19.5375}, "y": {"datum": 25.8}}},
     {"data": {"values": [{}]}, "mark": {"type": "text", "style": "num", "text": "269>95"}, "encoding": {"x": {"datum": 19.995}, "y": {"datum": 25.8}}}
  ]}
 ]}
]
}
